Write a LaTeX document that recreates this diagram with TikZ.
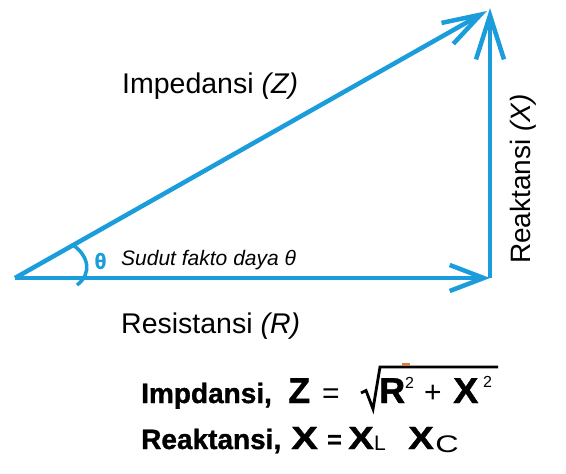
\documentclass[tikz,border=0pt]{standalone}
\usepackage{fontspec}
\setmainfont{Liberation Sans}
\newfontface\heavy[FakeBold=1.2]{Liberation Sans Bold}
\usetikzlibrary{arrows.meta}
\definecolor{vblue}{HTML}{1B9DDB}
\definecolor{tick}{HTML}{D4804A}
\begin{document}
\begin{tikzpicture}[x=1pt,y=-1pt,
  vec/.style={draw=vblue, line width=4.5pt},
  lbl/.style={anchor=base west, inner sep=0pt, text=black, font=\fontsize{28.5}{30}\selectfont},
  eqb/.style={anchor=base west, inner sep=0pt, text=black, font=\heavy\fontsize{28}{30}\selectfont},
  eqbig/.style={anchor=base west, inner sep=0pt, text=black, font=\heavy\fontsize{36}{38}\selectfont},
  eqmid/.style={anchor=base west, inner sep=0pt, text=black, font=\heavy\fontsize{32}{34}\selectfont},
  eqr/.style={anchor=base west, inner sep=0pt, text=black, font=\fontsize{30}{32}\selectfont},
  eqs/.style={anchor=base west, inner sep=0pt, text=black, font=\fontsize{21}{22}\selectfont},
  supx/.style={anchor=base west, inner sep=0pt, text=black, font=\fontsize{16}{17}\selectfont}]
\useasboundingbox (0,0) rectangle (566,474);
\coordinate (A) at (15,278);
\coordinate (B) at (490,278);
\coordinate (C) at (490,8);
\coordinate (Ch) at (487,11);
% vectors
\draw[vec, -{Straight Barb[length=34pt,width=26pt]}] (A) -- (B);
\draw[vec, -{Straight Barb[length=44pt,width=28pt]}] (B) -- (C);
\draw[vec, -{Straight Barb[length=38pt,width=24pt]}] (A) -- (Ch);
% angle arc
\draw[draw=vblue, line width=3.5pt] (73,245) .. controls (89,256) and (92,274) .. (77,285);
\node[inner sep=0pt, text=vblue, font=\heavy\fontsize{22}{23}\selectfont] (th) at (100.5,261) {θ};
\node[anchor=base west, inner sep=0pt, font=\itshape\fontsize{21}{23}\selectfont] (sud) at (121,265) {Sudut fakto daya θ};
% labels
\node[lbl] (imp) at (122,93) {Impedansi \textit{(Z)}};
\node[lbl] (res) at (121,333) {Resistansi \textit{(R)}};
\node[lbl, rotate=90, font=\fontsize{28}{30}\selectfont] (rea) at (530,264) {Reaktansi \textit{(X)}};
% formula 1
\node[eqb] (f1) at (141,403) {Impdansi,};
\node[eqbig] (fz) at (288,403) {Z};
\node[eqr] (fe1) at (322,403) {=};
\draw[line width=2.8pt, line join=miter] (361,393) -- (366,390.5) -- (373,409) -- (380,367) -- (498,367);
\fill[tick] (402,362.5) rectangle (410,365.5);
\node[eqbig] (fr) at (379,403) {R};
\node[supx] (fr2) at (405,388) {2};
\node[eqr] (fp) at (424,402) {+};
\node[eqbig, xscale=1.05] (fx) at (453,403) {X};
\node[supx] (fx2) at (483,387) {2};
% formula 2
\node[eqb] (f2) at (141,449) {Reaktansi,};
\node[eqmid, xscale=1.25] (gx) at (291,449) {X};
\node[eqb, font=\heavy\fontsize{25}{26}\selectfont] (ge) at (327,448) {=};
\node[eqmid, xscale=1.2] (gxl) at (348,449) {X};
\node[eqs] (gl) at (374,450) {L};
\node[eqmid, xscale=1.2] (gxc) at (408,449) {X};
\node[eqs, font=\fontsize{24}{25}\selectfont, xscale=1.35] (gc) at (435,452) {C};
\end{tikzpicture}
\end{document}
